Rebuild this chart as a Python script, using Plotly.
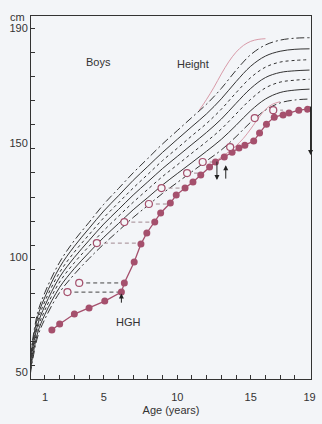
import plotly.graph_objects as go

ages = [0, 0.5, 1, 2, 3, 4, 5, 6, 7, 8, 9, 10, 11, 12, 13, 14, 15, 16, 17, 18, 19]
p97 = [54, 72, 80.5, 93, 102, 109.5, 117, 123.5, 130, 136, 142, 147.5, 153, 158.5, 165, 172.5, 179, 183, 185, 185.8, 186]
p90 = [52.8, 70.3, 78.6, 90.9, 99.6, 107, 114.2, 120.5, 126.9, 132.7, 138.5, 143.9, 149.2, 154.5, 160.7, 167.8, 174.2, 178.4, 180.4, 181.2, 181.4]
p75 = [51.6, 68.6, 76.8, 88.8, 97.2, 104.4, 111.4, 117.6, 123.7, 129.4, 135.1, 140.2, 145.4, 150.5, 156.4, 163.2, 169.5, 173.8, 175.9, 176.6, 176.9]
p50 = [50.5, 67, 75, 86.8, 95, 102, 108.8, 114.8, 120.8, 126.3, 131.8, 136.8, 141.8, 146.8, 152.3, 158.8, 165, 169.5, 171.6, 172.3, 172.6]
p25 = [49.2, 65.4, 73.2, 84.8, 92.8, 99.6, 106.1, 112, 117.8, 123.2, 128.5, 133.3, 138.2, 143, 148.2, 154.4, 160.5, 165.2, 167.6, 168.4, 168.8]
p10 = [47.9, 63.7, 71.4, 82.6, 90.4, 97, 103.3, 109, 114.7, 119.8, 125, 129.7, 134.3, 139, 143.9, 149.7, 155.8, 160.6, 163.3, 164.3, 164.7]
p3 = [46.5, 62, 69.5, 80.5, 88, 94.5, 100.5, 106, 111.5, 116.5, 121.5, 126, 130.5, 135, 139.5, 145, 151, 156, 159, 160.2, 160.6]

early_age = [11.5, 12, 12.5, 13, 13.5, 14, 14.5, 15, 15.5, 16]
early_h = [156, 160.5, 165.5, 171, 176, 180, 182.8, 184.5, 185.3, 185.6]
late_age = [12.5, 13, 13.5, 14, 14.5, 15, 15.5, 16, 16.5, 17]
late_h = [134.5, 136.5, 138.7, 141.2, 144.3, 148.2, 152.5, 156.3, 158.5, 159.5]

pt_age = [1.47, 2.0, 3.0, 4.0, 5.07, 6.2, 6.4, 7.07, 7.53, 7.93, 8.47, 8.87, 9.53, 9.93, 10.53, 11.07, 11.6, 12.2, 12.6, 13.2, 13.73, 14.2, 14.6, 15.2, 15.6, 16.07, 16.6, 17.2, 17.6, 18.27, 18.87]
pt_h = [64.9, 67.4, 71.5, 74.0, 76.9, 80.6, 84.4, 93.1, 100.5, 105.1, 109.6, 113.4, 117.5, 120.8, 123.7, 126.2, 129.1, 132.4, 134.5, 136.6, 138.6, 140.3, 141.5, 143.2, 146.5, 150.2, 153.1, 154.0, 154.8, 156.0, 156.4]

bone_age = [2.53, 3.33, 4.53, 6.4, 8.07, 8.93, 10.67, 11.73, 13.6, 15.27, 16.53]
bone_chron = [6.2, 6.4, 7.53, 8.47, 9.53, 10.53, 11.6, 12.6, 14.2, 15.6, 17.2]
bone_h = [80.6, 84.4, 100.9, 109.6, 117.1, 123.7, 129.9, 134.5, 140.7, 152.7, 156.0]

PINK = "#a5506d"
LINE = "#333333"

fig = go.Figure()
styles = [(p97, "8px,3px,2px,3px"), (p90, "solid"), (p75, "dot"), (p50, "solid"),
          (p25, "dot"), (p10, "solid"), (p3, "8px,3px,2px,3px")]
for vals, dash in styles:
    fig.add_trace(go.Scatter(x=ages, y=vals, mode="lines", line=dict(color=LINE, width=1, dash=dash, shape="spline"), hoverinfo="skip"))

fig.add_trace(go.Scatter(x=early_age, y=early_h, mode="lines", line=dict(color="#d89aa8", width=1, shape="spline"), hoverinfo="skip"))
fig.add_trace(go.Scatter(x=late_age, y=late_h, mode="lines", line=dict(color="#d89aa8", width=1, shape="spline"), hoverinfo="skip"))

for i in range(len(bone_age)):
    col = "#444444" if i < 2 else "#a08890"
    fig.add_trace(go.Scatter(x=[bone_age[i], bone_chron[i]], y=[bone_h[i], bone_h[i]], mode="lines",
                             line=dict(color=col, width=1, dash="4px,3px"), hoverinfo="skip"))

fig.add_trace(go.Scatter(x=pt_age, y=pt_h, mode="lines+markers", line=dict(color=PINK, width=1.3),
                         marker=dict(color=PINK, size=7), hoverinfo="skip"))
fig.add_trace(go.Scatter(x=bone_age, y=bone_h, mode="markers",
                         marker=dict(color="#f4f6f8", size=7, line=dict(color=PINK, width=1.2)), hoverinfo="skip"))

def arrow(x, y0, y1):
    fig.add_annotation(x=x, y=y1, ax=x, ay=y0, xref="x", yref="y", axref="x", ayref="y",
                       showarrow=True, arrowhead=2, arrowsize=1, arrowwidth=1, arrowcolor="#222", text="")

arrow(6.2, 75.6, 80.0)
arrow(12.7, 135.3, 127.0)
arrow(13.3, 127.0, 133.2)
arrow(19.07, 158.1, 137.4)

font = dict(family="Liberation Sans, Arial, sans-serif", size=11, color="#333")
fig.add_annotation(x=6.67, y=68.2, text="HGH", showarrow=False, font=font)
fig.add_annotation(x=4.67, y=175.9, text="Boys", showarrow=False, font=font)
fig.add_annotation(x=11.07, y=175.1, text="Height", showarrow=False, font=font)
fig.add_annotation(x=0, y=1, xref="paper", yref="paper", xanchor="right", yanchor="bottom", xshift=-4, yshift=-9,
                   text="cm", showarrow=False, font=font)

fig.update_layout(
    width=322, height=424, margin=dict(l=31, r=6, t=16, b=45),
    paper_bgcolor="#f3f5f8", plot_bgcolor="#f3f5f8", showlegend=False,
    font=font,
    xaxis=dict(range=[0.05, 19.1], showline=True, linecolor=LINE, linewidth=1, mirror=True,
               showgrid=False, zeroline=False, tickvals=[1, 5, 10, 15, 19], ticks="", ticklen=0,
               ticklabelstandoff=8,
               minor=dict(tickvals=list(range(1, 19)), ticks="inside", ticklen=4, tickcolor=LINE),
               title=dict(text="Age (years)", font=font, standoff=4)),
    yaxis=dict(range=[44.6, 195], showline=True, linecolor=LINE, linewidth=1, mirror=True,
               showgrid=False, zeroline=False, tickvals=[190, 142.4, 95.1, 47.5], ticktext=["190", "150", "100", "50"],
               ticks="", minor=dict(tickvals=list(range(50, 191, 10)), ticks="inside", ticklen=4, tickcolor=LINE)),
)
fig.write_html("out.html")
